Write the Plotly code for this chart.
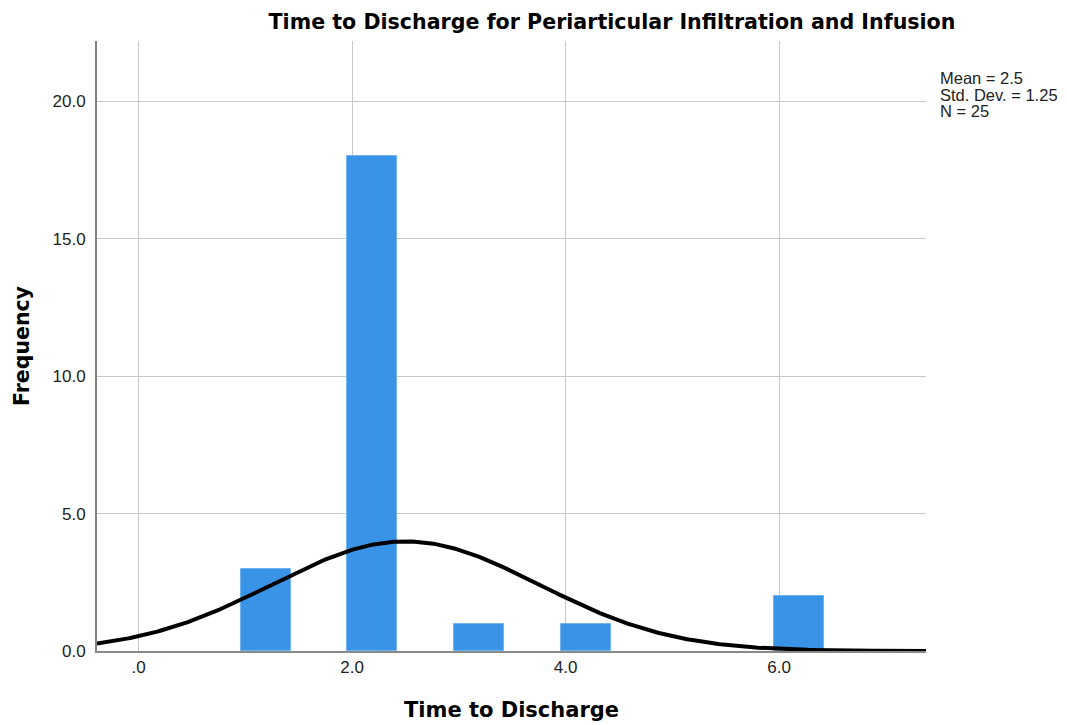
import numpy as np
import plotly.graph_objects as go

# Data
bin_centers = [1.19, 2.19, 3.19, 4.19, 6.19]
frequencies = [3, 18, 1, 1, 2]
bin_width = 0.5
mean = 2.5
std_dev = 1.25
n = 25
x_ticks = [0, 2, 4, 6]
x_tick_labels = [".0", "2.0", "4.0", "6.0"]
y_ticks = [0, 5, 10, 15, 20]
y_tick_labels = ["0.0", "5.0", "10.0", "15.0", "20.0"]
stats_lines = [f"Mean = {mean}", f"Std. Dev. = {std_dev}", f"N = {n}"]

x_range = [-0.39, 7.376]
y_range = [0, 22.2]

xs = np.linspace(x_range[0], x_range[1], 400)
ys = n * bin_width / (std_dev * np.sqrt(2 * np.pi)) * np.exp(-0.5 * ((xs - mean) / std_dev) ** 2)

fig = go.Figure()
fig.add_trace(go.Bar(
    x=bin_centers, y=frequencies, width=0.47,
    marker=dict(color="#3994e8", line=dict(color="#6fb3f0", width=1)),
    showlegend=False,
))
fig.add_trace(go.Scatter(
    x=xs, y=ys, mode="lines",
    line=dict(color="black", width=4),
    showlegend=False,
))

font = "Liberation Sans, Arial, sans-serif"
title_font = "DejaVu Sans, sans-serif"
fig.update_layout(
    width=1067, height=725,
    margin=dict(l=89, r=149, t=33, b=82),
    paper_bgcolor="white", plot_bgcolor="white",
    font=dict(family=font, size=17, color="#222"),
    title=dict(
        text="<b>Time to Discharge for Periarticular Infiltration and Infusion</b>",
        x=604 / 1067, xanchor="center", xref="container",
        y=1 - 14 / 725, yanchor="middle", yref="container",
        font=dict(size=20.6, color="black", family=title_font),
    ),
    xaxis=dict(
        range=x_range, tickvals=x_ticks, ticktext=x_tick_labels,
        showgrid=True, gridcolor="#c8c8c8", gridwidth=1,
        showline=True, linecolor="#8a8a8a", linewidth=2,
        zeroline=False, ticks="", ticklen=0,
        tickfont=dict(size=17, color="#222"),
    ),
    yaxis=dict(
        range=y_range, tickvals=y_ticks, ticktext=y_tick_labels,
        showgrid=True, gridcolor="#c8c8c8", gridwidth=1,
        showline=True, linecolor="#808080", linewidth=2,
        zeroline=False, ticks="", ticklen=0,
        tickfont=dict(size=17, color="#222"),
        ticklabelstandoff=6,
    ),
    bargap=0,
)

# Axis titles
fig.add_annotation(
    x=0.5, xref="paper", y=0, yref="paper", yshift=-59,
    xanchor="center", yanchor="middle", showarrow=False,
    text="<b>Time to Discharge</b>",
    font=dict(size=21, color="black", family=title_font),
)
fig.add_annotation(
    x=0, xref="paper", xshift=-75, y=0.5, yref="paper",
    xanchor="center", yanchor="middle", showarrow=False, textangle=-90,
    text="<b>Frequency</b>",
    font=dict(size=20.5, color="black", family=title_font),
)

# Stats box
for i, line in enumerate(stats_lines):
    fig.add_annotation(
        x=1.0, xref="paper", xshift=12, y=1.0, yref="paper", yshift=-37 - 16.5 * i,
        xanchor="left", yanchor="middle", align="left", showarrow=False,
        text=line,
        font=dict(size=16.5, color="#222", family=font),
    )

fig.write_html("out.html")
